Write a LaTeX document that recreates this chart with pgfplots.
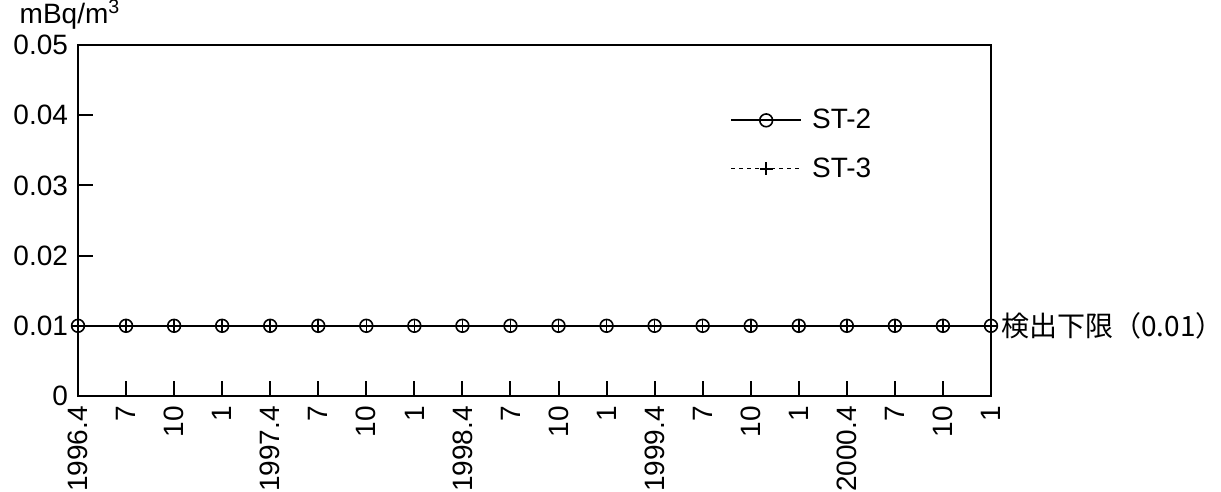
\documentclass[border=0pt]{standalone}
\usepackage{fontspec}
\setmainfont{Liberation Sans}
\newfontfamily\cjk{Noto Sans CJK JP}
\usepackage{pgfplots}
\pgfplotsset{compat=1.18}
\begin{document}
\begin{tikzpicture}[font=\fontsize{14}{16}\selectfont]
\path[use as bounding box] (-39pt,-48pt) rectangle (571.5pt,198pt);
\begin{axis}[
  at={(0,0)}, anchor=south west,
  scale only axis, width=456.5pt, height=175.5pt,
  xmin=0, xmax=19, ymin=0, ymax=0.05,
  scaled y ticks=false,
  axis line style={line width=1.4pt},
  xtick={0,...,19},
  xticklabels={1996.4,7,10,1,1997.4,7,10,1,1998.4,7,10,1,1999.4,7,10,1,2000.4,7,10,1},
  ytick={0,0.01,0.02,0.03,0.04,0.05},
  yticklabels={0,0.01,0.02,0.03,0.04,0.05},
  xtick pos=bottom, ytick pos=left,
  tick align=inside, major tick length=7.5pt,
  tick style={line width=1pt, black},
  tick label style={font=\fontsize{14}{16}\selectfont},
  xticklabel style={rotate=90, anchor=east, xshift=-1.5pt},
  yticklabel style={xshift=-1.5pt},
  /pgf/number format/assume math mode=true,
  legend style={draw=none, fill=none, at={(0.714,0.83)}, anchor=north west,
    font=\fontsize{14}{16}\selectfont, row sep=9pt, inner sep=0pt},
  legend cell align=left,
  legend image code/.code={\draw[mark repeat=2,mark phase=2,#1] plot coordinates {(0pt,0pt)(17.5pt,0pt)(35pt,0pt)};},
  clip=false,
]
\addplot[black, line width=0.9pt, mark=o, mark size=3.2pt, mark options={solid, line width=0.8pt}]
  coordinates {(0,0.01)(1,0.01)(2,0.01)(3,0.01)(4,0.01)(5,0.01)(6,0.01)(7,0.01)(8,0.01)(9,0.01)
  (10,0.01)(11,0.01)(12,0.01)(13,0.01)(14,0.01)(15,0.01)(16,0.01)(17,0.01)(18,0.01)(19,0.01)};
\addlegendentry{\hspace{3pt}ST-2}
\addplot[black, line width=0.6pt, dash pattern=on 2pt off 2pt, mark=+, mark size=3.2pt, mark options={solid, line width=0.8pt}]
  coordinates {(0,0.01)(1,0.01)(2,0.01)(3,0.01)(4,0.01)(5,0.01)(6,0.01)(7,0.01)(8,0.01)(9,0.01)
  (10,0.01)(11,0.01)(12,0.01)(13,0.01)(14,0.01)(15,0.01)(16,0.01)(17,0.01)(18,0.01)(19,0.01)};
\addlegendentry{\hspace{3pt}ST-3}
\node[anchor=west, inner sep=0pt, xshift=5pt] at (axis cs:19,0.01) {\cjk 検出下限（0.01）};
\node[anchor=south, inner sep=0pt, xshift=-4pt, yshift=7.5pt] at (rel axis cs:0,1) {mBq/m\textsuperscript{3}};
\end{axis}
\end{tikzpicture}
\end{document}
